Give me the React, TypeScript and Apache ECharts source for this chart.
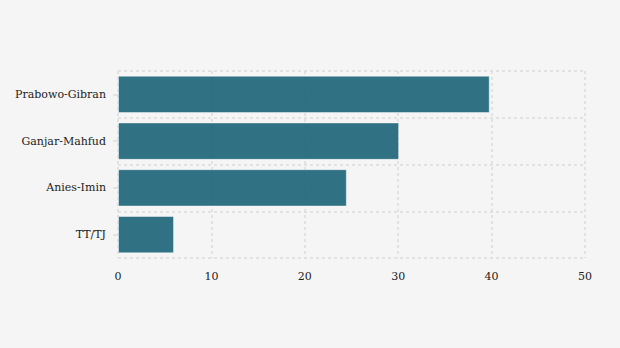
import React, { useEffect, useRef } from "react";
import * as echarts from "echarts";

const categories = ["Prabowo-Gibran", "Ganjar-Mahfud", "Anies-Imin", "TT/TJ"];
const values = [39.8, 30.1, 24.5, 6.0];
const xTicks = { min: 0, max: 50, interval: 10 };

export default function App() {
  const ref = useRef<HTMLDivElement>(null);
  useEffect(() => {
    const chart = echarts.init(ref.current!, null, { renderer: "svg" });
    const font = "DejaVu Serif";
    const gridLine = { show: true, lineStyle: { color: "#dcdcdc", type: [3, 3], width: 1.5 } };
    chart.setOption({
      animation: false,
      backgroundColor: "#f5f5f5",
      grid: { left: 118, right: 35, top: 71, bottom: 90 },
      xAxis: {
        type: "value",
        min: xTicks.min,
        max: xTicks.max,
        interval: xTicks.interval,
        axisLine: { show: false },
        axisTick: { show: false },
        axisLabel: { color: "#222", fontFamily: font, fontSize: 11, margin: 13 },
        splitLine: gridLine,
      },
      yAxis: {
        type: "category",
        inverse: true,
        data: categories,
        axisLine: { show: false },
        axisTick: { show: true, alignWithLabel: true, length: 5, lineStyle: { color: "#dcdcdc", width: 1.5 } },
        axisLabel: { color: "#222", fontFamily: font, fontSize: 11, margin: 12 },
        splitLine: gridLine,
      },
      series: [
        {
          type: "bar",
          data: values,
          barCategoryGap: "20%",
          itemStyle: {
            color: "#20667a",
            opacity: 0.93,
            borderColor: "rgba(255,255,255,0.5)",
            borderWidth: 1,
          },
        },
      ],
    });
    return () => chart.dispose();
  }, []);
  return (
    <div
      ref={ref}
      style={{ position: "fixed", left: 0, top: 0, width: 620, height: 348 }}
    />
  );
}
